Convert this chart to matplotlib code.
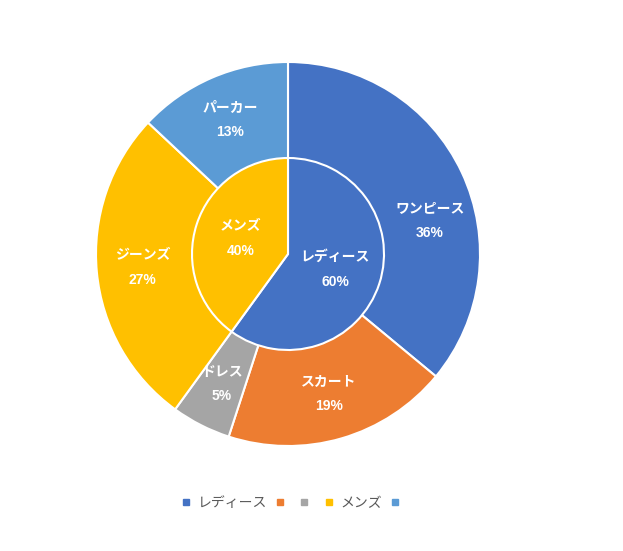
import numpy as np
import matplotlib
matplotlib.use("Agg")
import matplotlib.pyplot as plt
from matplotlib.lines import Line2D

plt.rcParams['font.family'] = ['Liberation Sans', 'Noto Sans CJK JP', 'DejaVu Sans']

# inner ring
inner_labels = ['レディース', 'メンズ']
inner_vals = [60, 40]
inner_cols = ['#4472C4', '#FFC000']

# outer ring
outer_labels = ['ワンピース', 'スカート', 'ドレス', 'ジーンズ', 'パーカー']
outer_vals = [36, 19, 5, 27, 13]
outer_cols = ['#4472C4', '#ED7D31', '#A5A5A5', '#FFC000', '#5B9BD5']

# legend shows the outer colours, but only two names
legend_labels = ['レディース', '', '', 'メンズ', '']

fig = plt.figure(figsize=(6.23, 5.51), dpi=100)
ax = fig.add_axes([0, 0, 1, 1])
ax.axis('off')

wp = dict(edgecolor='white', linewidth=1.5)
w_out, _ = ax.pie(outer_vals, radius=1.0, colors=outer_cols, startangle=90,
                  counterclock=False, wedgeprops=wp)
w_in, _ = ax.pie(inner_vals, radius=0.5, colors=inner_cols, startangle=90,
                 counterclock=False, wedgeprops=wp)
# 1 data unit = 192 px, centre at (288, 254) px from top-left
ax.set_xlim(-288/192, (623-288)/192)
ax.set_ylim(-(551-254)/192, 254/192)

# excel pushed the big slice's label a bit lower
nudge = {'ワンピース': -12}

def put_labels(wedges, names, vals, r):
    for w, n, v in zip(wedges, names, vals):
        a = np.deg2rad((w.theta1 + w.theta2) / 2 + nudge.get(n, 0))
        ax.text(r*np.cos(a), r*np.sin(a), n + '\n' + str(v) + '%',
                ha='center', va='center', color='white', fontsize=10,
                fontweight='bold', linespacing=1.95)

put_labels(w_out, outer_labels, outer_vals, 0.76)
put_labels(w_in, inner_labels, inner_vals, 0.26)

handles = [Line2D([], [], marker='s', linestyle='none', markersize=5,
                  color=c) for c in outer_cols]
fig.legend(handles, legend_labels, loc='center', bbox_to_anchor=(294/623, 48/551),
           ncol=5, frameon=False, fontsize=10, handlelength=0.7,
           handletextpad=0.5, columnspacing=0.55, labelcolor='#595959')

fig.savefig('out.png', dpi=100)
